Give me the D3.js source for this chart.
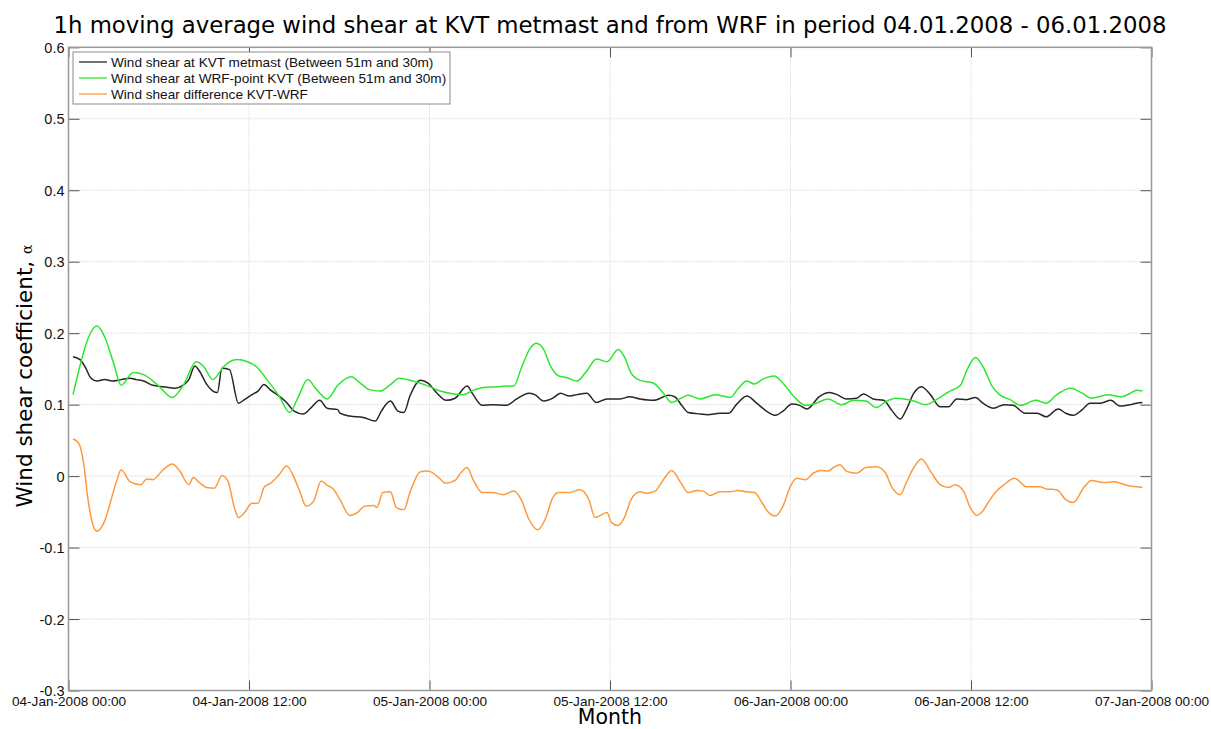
<!DOCTYPE html>
<html>
<head>
<meta charset="utf-8">
<script src="https://cdn.jsdelivr.net/npm/d3@7"></script>
<style>
  html, body { margin: 0; padding: 0; background: #fff; }
  svg { display: block; }
</style>
</head>
<body>
<svg id="chart" width="1211" height="729"></svg>
<script>
// ---- Data (hours after 04-Jan-2008 00:00, value) ----
const startTime = Date.UTC(2008, 0, 4, 0, 0);
const endTime = Date.UTC(2008, 0, 7, 0, 0);

const metmastShear = [
  [0.3,.167],[0.77,.163],[1.1,.153],[1.5,.137],[1.9,.133],[2.4,.135],[2.9,.133],[3.5,.135],[4.1,.137],[4.5,.135],
  [5.0,.133],[5.6,.127],[6.3,.125],[7.1,.123],[7.6,.127],[8.0,.135],[8.4,.154],[8.7,.147],[9.2,.128],[9.6,.119],
  [9.9,.117],[10.2,.151],[10.7,.149],[11.3,.102],[11.7,.107],[12.2,.114],[12.6,.119],[13.0,.128],[13.4,.121],[14.0,.112],
  [14.5,.103],[15.0,.091],[15.6,.087],[16.1,.095],[16.7,.106],[17.2,.095],[17.9,.093],[18.05,.088],[18.7,.084],[19.6,.082],
  [20.4,.077],[20.8,.091],[21.4,.105],[21.9,.091],[22.3,.089],[22.7,.112],[23.4,.134],[23.9,.130],[24.5,.116],[25.1,.106],
  [25.7,.109],[26.5,.126],[26.9,.114],[27.5,.099],[28.2,.100],[29.1,.099],[29.8,.108],[30.6,.116],[31.0,.114],[31.6,.105],
  [32.2,.109],[32.7,.116],[33.3,.112],[33.8,.114],[34.45,.116],[35.1,.103],[35.8,.108],[36.67,.108],[37.3,.111],[38.0,.108],
  [38.9,.106],[39.9,.113],[40.3,.111],[40.8,.098],[41.2,.089],[42.0,.087],[42.5,.086],[43.3,.088],[43.9,.088],[44.4,.100],
  [45.1,.112],[45.75,.102],[46.4,.091],[47.0,.085],[47.5,.091],[48.1,.101],[48.6,.099],[49.1,.094],[49.9,.111],[50.6,.117],
  [51.1,.114],[51.7,.108],[52.4,.109],[52.85,.115],[53.5,.108],[54.2,.106],[54.7,.093],[55.3,.080],[55.7,.093],[56.2,.116],
  [56.7,.125],[57.3,.114],[57.95,.097],[58.5,.097],[59.05,.108],[59.7,.107],[60.3,.110],[60.8,.102],[61.5,.095],[62.2,.100],
  [62.8,.099],[63.6,.088],[64.4,.088],[65.0,.083],[65.8,.094],[66.3,.088],[66.8,.085],[67.4,.093],[67.9,.102],[68.6,.102],
  [69.3,.106],[69.9,.098],[70.6,.100],[71.0,.102],[71.4,.103]
];

const wrfShear = [
  [0.3,.114],[1.9,.210],[2.4,.195],[3.0,.158],[3.5,.127],[4.3,.145],[5.0,.142],[5.9,.128],[6.9,.110],[7.6,.126],
  [8.5,.160],[9.0,.153],[9.6,.135],[10.3,.153],[11.2,.163],[11.9,.160],[12.5,.153],[13.2,.135],[14.0,.112],[14.7,.089],
  [15.3,.112],[15.9,.135],[16.5,.121],[17.2,.108],[17.9,.127],[18.8,.139],[19.4,.130],[20.0,.121],[20.7,.119],[21.4,.128],
  [22.0,.137],[22.9,.133],[23.8,.127],[24.7,.119],[25.6,.115],[26.25,.114],[26.9,.120],[27.6,.124],[28.5,.125],[29.1,.126],
  [29.6,.126],[30.1,.151],[30.7,.179],[31.1,.186],[31.6,.177],[32.0,.156],[32.6,.140],[33.1,.138],[33.8,.133],[34.45,.147],
  [35.1,.164],[35.8,.160],[36.55,.177],[37.0,.165],[37.4,.144],[38.0,.134],[38.9,.130],[39.55,.116],[40.1,.103],[40.55,.107],
  [41.2,.113],[42.0,.108],[43.0,.114],[44.0,.110],[44.5,.122],[45.1,.133],[45.6,.129],[46.2,.136],[46.9,.140],[47.5,.130],
  [48.2,.112],[49.0,.099],[49.7,.102],[50.5,.108],[51.4,.100],[52.2,.106],[53.0,.105],[53.7,.096],[54.4,.105],[55.0,.109],
  [56.2,.105],[56.95,.100],[57.7,.107],[58.6,.119],[59.3,.127],[59.7,.147],[60.3,.166],[60.8,.153],[61.4,.126],[61.9,.114],
  [62.6,.107],[63.3,.099],[64.3,.106],[65.0,.102],[65.7,.114],[66.6,.123],[67.4,.116],[68.0,.109],[69.1,.114],[70.0,.111],
  [70.6,.116],[71.0,.120],[71.4,.119]
];

const shearDifference = [
  [0.3,.052],[0.65,.047],[1.0,.019],[1.3,-.033],[1.65,-.070],[1.9,-.077],[2.4,-.063],[2.9,-.028],[3.2,-.007],[3.5,.009],
  [4.1,-.008],[4.8,-.012],[5.2,-.004],[5.6,-.005],[6.3,.009],[6.9,.017],[7.4,.007],[8.0,-.012],[8.3,-.002],[8.7,-.009],
  [9.2,-.016],[9.7,-.017],[10.2,.001],[10.6,-.007],[11.0,-.042],[11.3,-.058],[11.7,-.051],[12.2,-.038],[12.6,-.038],[13.0,-.016],
  [13.5,-.009],[14.0,.002],[14.5,.014],[15.1,-.007],[15.4,-.023],[15.8,-.042],[16.3,-.035],[16.8,-.007],[17.2,-.013],[17.6,-.018],
  [18.05,-.033],[18.7,-.055],[19.2,-.051],[19.7,-.042],[20.3,-.041],[20.5,-.044],[20.9,-.023],[21.4,-.022],[21.8,-.044],[22.3,-.047],
  [22.7,-.023],[23.4,.006],[23.9,.007],[24.5,.000],[25.1,-.010],[25.7,-.006],[26.1,.005],[26.5,.012],[26.9,-.005],[27.5,-.023],
  [28.2,-.023],[28.9,-.026],[29.6,-.021],[30.1,-.033],[30.6,-.060],[31.2,-.075],[31.7,-.060],[32.2,-.030],[32.6,-.023],[33.3,-.023],
  [34.0,-.019],[34.6,-.033],[35.0,-.058],[35.8,-.051],[36.1,-.065],[36.55,-.069],[37.0,-.056],[37.4,-.033],[38.0,-.022],[38.4,-.024],
  [39.0,-.021],[39.55,-.005],[40.1,.008],[40.7,-.009],[41.2,-.023],[41.8,-.020],[42.2,-.021],[42.65,-.027],[43.3,-.022],[44.0,-.022],
  [44.5,-.020],[45.1,-.022],[45.6,-.023],[46.1,-.037],[46.5,-.050],[47.0,-.056],[47.5,-.042],[48.0,-.014],[48.4,-.003],[49.0,-.005],
  [49.5,.004],[50.0,.008],[50.5,.007],[50.85,.012],[51.3,.016],[51.7,.007],[52.4,.004],[53.0,.012],[53.7,.013],[54.3,.005],
  [54.7,-.014],[55.3,-.026],[55.7,-.009],[56.2,.012],[56.7,.024],[57.3,.007],[57.95,-.012],[58.5,-.016],[58.95,-.012],[59.5,-.021],
  [59.95,-.044],[60.4,-.055],[60.7,-.051],[61.2,-.035],[61.7,-.021],[62.2,-.012],[62.9,-.003],[63.7,-.015],[64.6,-.015],[65.0,-.018],
  [65.7,-.019],[66.3,-.033],[66.8,-.037],[67.5,-.016],[68.0,-.006],[68.8,-.009],[69.5,-.008],[70.4,-.013],[71.0,-.015],[71.4,-.016]
];

const yTicks = [-0.3, -0.2, -0.1, 0, 0.1, 0.2, 0.3, 0.4, 0.5, 0.6];
const yTickLabels = ["-0.3", "-0.2", "-0.1", "0", "0.1", "0.2", "0.3", "0.4", "0.5", "0.6"];
const seriesNames = [
  "Wind shear at KVT metmast (Between 51m and 30m)",
  "Wind shear at WRF-point KVT (Between 51m and 30m)",
  "Wind shear difference KVT-WRF"
];
const seriesColors = ["#262626", "#2ee62e", "#ff9a3c"];
const titleText = "1h moving average wind shear at KVT metmast and from WRF in period 04.01.2008 - 06.01.2008";

// ---- Layout ----
const svg = d3.select("#chart");
const L = 68.5, R = 1151.5, T = 47.3, B = 690.5;

const x = d3.scaleUtc().domain([new Date(startTime), new Date(endTime)]).range([L, R]);
const y = d3.scaleLinear().domain([-0.3, 0.6]).range([B, T]);
const toDate = h => new Date(startTime + h * 3600 * 1000);
const xTicks = d3.range(0, 73, 12).map(toDate);

// grid
const grid = svg.append("g");
grid.selectAll(".gx").data(xTicks.slice(1, -1)).join("line")
  .attr("x1", d => x(d)).attr("x2", d => x(d)).attr("y1", T).attr("y2", B)
  .attr("stroke", "#e2e2e2").attr("stroke-width", 1).attr("stroke-dasharray", "2,1");
grid.selectAll(".gy").data(yTicks.slice(1, -1)).join("line")
  .attr("x1", L).attr("x2", R).attr("y1", d => y(d)).attr("y2", d => y(d))
  .attr("stroke", "#e2e2e2").attr("stroke-width", 1).attr("stroke-dasharray", "2,1");

// axes via d3
const fmt = d3.utcFormat("%d-%b-%Y %H:%M");
const xAxis = svg.append("g").attr("transform", `translate(0,${B})`)
  .call(d3.axisBottom(x).tickValues(xTicks).tickFormat(fmt).tickSize(-10).tickPadding(5.5));
const yAxis = svg.append("g").attr("transform", `translate(${L},0)`)
  .call(d3.axisLeft(y).tickValues(yTicks).tickFormat((d, i) => yTickLabels[i]).tickSize(-11).tickPadding(4));
const xAxisTop = svg.append("g").attr("transform", `translate(0,${T})`)
  .call(d3.axisTop(x).tickValues(xTicks).tickFormat("").tickSize(-10));
const yAxisRight = svg.append("g").attr("transform", `translate(${R},0)`)
  .call(d3.axisRight(y).tickValues(yTicks).tickFormat("").tickSize(-11));

[xAxis, yAxis, xAxisTop, yAxisRight].forEach(g => {
  g.select(".domain").remove();
  g.selectAll(".tick line").attr("stroke", "#555").attr("stroke-width", 1);
  g.selectAll("text").attr("fill", "#111").attr("font-family", "Liberation Sans, Arial, sans-serif");
});
xAxis.selectAll("text").attr("font-size", 13.6);
yAxis.selectAll("text").attr("font-size", 14.5).attr("dy", "0.35em");

// lines
const line = d3.line().x(d => x(toDate(d[0]))).y(d => y(d[1])).curve(d3.curveMonotoneX);
const plot = svg.append("g");
[[metmastShear, 0], [wrfShear, 1], [shearDifference, 2]].forEach(([data, i]) => {
  plot.append("path").datum(data).attr("d", line)
    .attr("fill", "none").attr("stroke", seriesColors[i]).attr("stroke-width", 1.5)
    .attr("stroke-linejoin", "round");
});

// axes box
svg.append("rect").attr("x", L).attr("y", T).attr("width", R - L).attr("height", B - T)
  .attr("fill", "none").attr("stroke", "#999").attr("stroke-width", 1.5);

// legend
const lg = svg.append("g");
lg.append("rect").attr("x", 73).attr("y", 52).attr("width", 377).attr("height", 52)
  .attr("fill", "#fff").attr("stroke", "#8a8a8a").attr("stroke-width", 1);
seriesNames.forEach((name, i) => {
  const yy = 62 + i * 16;
  lg.append("line").attr("x1", 79).attr("x2", 107).attr("y1", yy).attr("y2", yy)
    .attr("stroke", seriesColors[i]).attr("stroke-width", 1.3);
  lg.append("text").attr("x", 111).attr("y", yy).attr("dy", "0.35em")
    .attr("font-family", "Liberation Sans, Arial, sans-serif").attr("font-size", 13.6).attr("fill", "#111")
    .text(name);
});

// title & labels
svg.append("text").attr("x", (L + R) / 2).attr("y", 33).attr("text-anchor", "middle")
  .attr("font-family", "DejaVu Sans, sans-serif").attr("font-size", 22.8).attr("fill", "#000")
  .text(titleText);
const yl = svg.append("text").attr("transform", `translate(32,${376}) rotate(-90)`).attr("text-anchor", "middle")
  .attr("font-family", "DejaVu Sans, sans-serif").attr("font-size", 21.5).attr("fill", "#000");
yl.append("tspan").text("Wind shear coefficient, ");
yl.append("tspan").attr("font-family", "DejaVu Serif, serif").attr("font-size", 14).text("α");
svg.append("text").attr("x", (L + R) / 2).attr("y", 724).attr("text-anchor", "middle")
  .attr("font-family", "DejaVu Sans, sans-serif").attr("font-size", 20.5).attr("fill", "#000")
  .text("Month");
</script>
</body>
</html>
